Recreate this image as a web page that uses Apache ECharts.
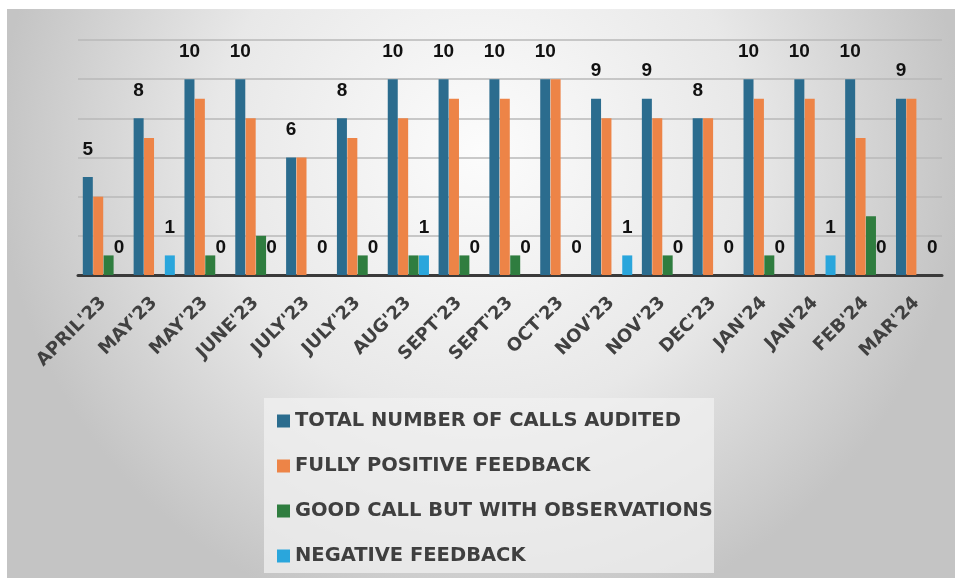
<!DOCTYPE html>
<html>
<head>
<meta charset="utf-8">
<script src="https://cdn.jsdelivr.net/npm/echarts@6/dist/echarts.min.js"></script>
<style>
html,body{margin:0;padding:0;background:#fff;}
#c{width:955px;height:578px;}
</style>
</head>
<body>
<div id="c"></div>
<script>
const categories = ["APRIL'23","MAY'23","MAY'23","JUNE'23","JULY'23","JULY'23","AUG'23","SEPT'23","SEPT'23","OCT'23","NOV'23","NOV'23","DEC'23","JAN'24","JAN'24","FEB'24","MAR'24"];
const totalAudited   = [5, 8, 10, 10, 6, 8, 10, 10, 10, 10, 9, 9, 8, 10, 10, 10, 9];
const fullyPositive  = [4, 7, 9, 8, 6, 7, 8, 9, 9, 10, 8, 8, 8, 9, 9, 7, 9];
const goodWithObs    = [1, 0, 1, 2, 0, 1, 1, 1, 1, 0, 0, 1, 0, 1, 0, 3, 0];
const negative       = [0, 1, 0, 0, 0, 0, 1, 0, 0, 0, 1, 0, 0, 0, 1, 0, 0];
const seriesNames = ["TOTAL NUMBER OF CALLS AUDITED","FULLY POSITIVE FEEDBACK","GOOD CALL BUT WITH OBSERVATIONS","NEGATIVE FEEDBACK"];
const yTicks = {min: 0, max: 12, interval: 2};

const chart = echarts.init(document.getElementById('c'), null, {renderer: 'canvas'});
const labelStyle = {show: true, position: 'top', distance: 18, color: '#111', fontFamily: 'Liberation Sans', fontWeight: 'bold', fontSize: 19};

chart.setOption({
  backgroundColor: '#ffffff',
  animation: false,
  graphic: [
    {type: 'rect', z: -20, shape: {x: 7, y: 9, width: 948, height: 569},
     style: {fill: {type: 'radial', x: 0.5, y: 0.25, r: 0.85, colorStops: [{offset: 0, color: '#fcfcfc'}, {offset: 0.55, color: '#e8e8e8'}, {offset: 1, color: '#c4c4c4'}]}}},
    {type: 'rect', z: -10, shape: {x: 264, y: 398, width: 450, height: 175},
     style: {fill: 'rgba(240,240,240,0.75)'}}
  ],
  grid: {left: 78, right: 13, top: 40, bottom: 303, containLabel: false},
  legend: {
    orient: 'vertical', left: 272, top: 406, itemGap: 25,
    itemWidth: 13, itemHeight: 13, icon: 'rect',
    textStyle: {fontFamily: 'DejaVu Sans', fontWeight: 'bold', fontSize: 19.5, color: '#3f3f3f', lineHeight: 20},
    data: seriesNames
  },
  xAxis: {
    type: 'category', data: categories,
    axisLine: {lineStyle: {color: '#3a3a3a', width: 3}},
    axisTick: {show: false},
    axisLabel: {interval: 0, rotate: 45, margin: 25, fontFamily: 'DejaVu Sans', fontWeight: 'bold', fontSize: 18, color: '#404040'}
  },
  yAxis: {
    type: 'value', min: yTicks.min, max: yTicks.max, interval: yTicks.interval,
    axisLabel: {show: false}, axisLine: {show: false}, axisTick: {show: false},
    splitLine: {lineStyle: {color: '#b8b8b8', width: 1.5}}
  },
  series: [
    {name: seriesNames[0], type: 'bar', data: totalAudited, barWidth: 10, barGap: '4%', barCategoryGap: '17%', itemStyle: {color: '#2b6c8e'}, label: labelStyle},
    {name: seriesNames[1], type: 'bar', data: fullyPositive, barWidth: 10, itemStyle: {color: '#ed8447'}},
    {name: seriesNames[2], type: 'bar', data: goodWithObs, barWidth: 10, itemStyle: {color: '#2f7d3f'}},
    {name: seriesNames[3], type: 'bar', data: negative, barWidth: 10, itemStyle: {color: '#2aa6dc'}, label: labelStyle}
  ]
});
</script>
</body>
</html>
